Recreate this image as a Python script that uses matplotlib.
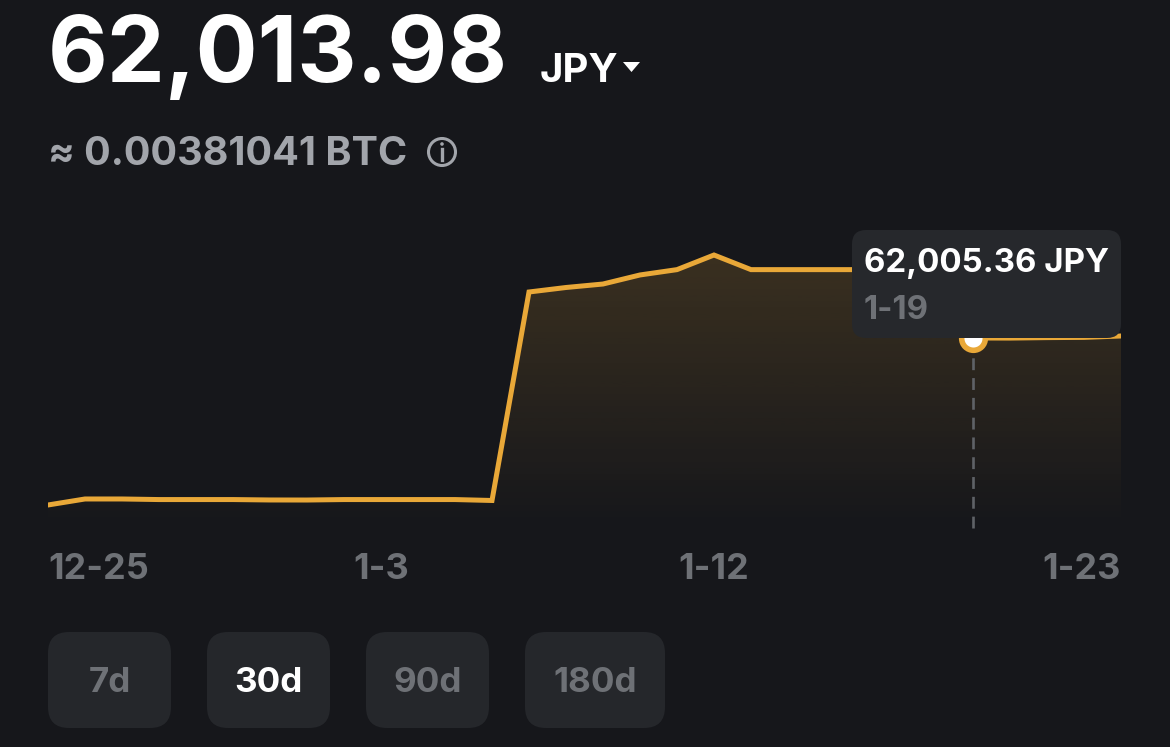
import matplotlib
matplotlib.use("Agg")
import matplotlib.pyplot as plt
import matplotlib.transforms as mtransforms
from matplotlib.patches import FancyBboxPatch, Circle, Polygon
import numpy as np

## chart data (one point per day, 12-25 .. 1-23)
days = list(range(30))
prices = [61285.6, 61311.5, 61311.5, 61309.0, 61309.0, 61309.0, 61307.2, 61307.0,
          61309.0, 61309.0, 61309.0, 61309.0, 61305.0, 62203.6, 62223.0, 62238.0,
          62277.0, 62300.0, 62363.0, 62300.0, 62300.0, 62300.0, 62300.0, 62300.0,
          62300.0, 62005.36, 62005.0, 62007.0, 62008.0, 62013.98]
tick_days = [0, 9, 18, 29]
tick_labels = ["12-25", "1-3", "1-12", "1-23"]
sel_day = 25
sel_label = "1-19"
ranges = ["7d", "30d", "90d", "180d"]
active_range = "30d"

balance = "62,013.98"
btc_amount = "≈ 0.00381041 BTC"

## style
BG = "#16171b"
LINE = "#e9a838"
GRAY = "#6e7176"
LIGHT = "#a2a5ab"
BOX = "#26282c"
W, H = 1170, 747

plt.rcParams['font.family'] = ['Inter', 'DejaVu Sans']

fig = plt.figure(figsize=(W / 100, H / 100), dpi=100, facecolor=BG)


def fx(x):
    return x / W


def fy(y):
    return 1 - y / H


def pt(px):
    return px * 0.72


## chart area
ax = fig.add_axes([fx(48), fy(530), (1121 - 48) / W, (530 - 230) / H])
ax.set_facecolor(BG)
ax.set_xlim(0, 29)
ax.set_ylim(61177.8, 62470.8)
for s in ax.spines.values():
    s.set_visible(False)
ax.set_xticks([])
ax.set_yticks([])

# gradient fill under the line
poly = ax.fill_between(days, prices, ax.get_ylim()[0], color='none')
grad = np.zeros((256, 1, 4))
rgb = matplotlib.colors.to_rgb(LINE)
grad[:, 0, 0] = rgb[0]
grad[:, 0, 1] = rgb[1]
grad[:, 0, 2] = rgb[2]
grad[:, 0, 3] = np.linspace(0.19, 0.0, 256)
im = ax.imshow(grad, aspect='auto', origin='upper',
               extent=[0, 29, ax.get_ylim()[0], ax.get_ylim()[1]], zorder=1)
path = poly.get_paths()[0]
im.set_clip_path(path, transform=ax.transData)

ax.plot(days, prices, color=LINE, lw=3.6, solid_joinstyle='miter', zorder=3)

# hover marker
ax.plot([sel_day, sel_day], [ax.get_ylim()[0] + 10, prices[sel_day]],
        color="#5f6267", lw=1.9, dashes=(4.5, 3), zorder=2)
ax.plot(sel_day, prices[sel_day], 'o', ms=17, mfc='white', mec=LINE, mew=4, zorder=4)

# x labels
trans = mtransforms.blended_transform_factory(ax.transData, fig.transFigure)
for d, lab in zip(tick_days, tick_labels):
    ha = 'center'
    if d == tick_days[0]:
        ha = 'left'
    elif d == tick_days[-1]:
        ha = 'right'
    ax.text(d, fy(579), lab, transform=trans, ha=ha, va='baseline',
            fontsize=pt(36), fontweight='bold', color=GRAY, clip_on=False)

## header
fig.text(fx(48), fy(82), balance, fontsize=pt(92), fontweight='bold', color='white',
         va='baseline', ha='left')
fig.text(fx(540), fy(82), "JPY", fontsize=pt(40), fontweight='bold', color='white',
         va='baseline', ha='left')
fig.patches.append(Polygon([(fx(623), fy(62)), (fx(640), fy(62)), (fx(631.5), fy(72))],
                           closed=True, transform=fig.transFigure, fc='white', ec='none'))
fig.text(fx(48), fy(165), btc_amount, fontsize=pt(39.5), fontweight='bold', color=LIGHT,
         va='baseline', ha='left')
# info icon
fig.add_artist(Circle((442 / 100, (H - 152) / 100), 13.5 / 100, transform=fig.dpi_scale_trans,
                      fc='none', ec=LIGHT, lw=2.2))
fig.add_artist(plt.Line2D([fx(442), fx(442)], [fy(149), fy(160)], color=LIGHT, lw=2.4,
                          transform=fig.transFigure))
fig.add_artist(Circle((442 / 100, (H - 144) / 100), 1.8 / 100, transform=fig.dpi_scale_trans,
                      fc=LIGHT, ec='none'))

## tooltip
tip = FancyBboxPatch((fx(852), fy(338)), fx(1121 - 852), (338 - 230) / H,
                     boxstyle="round,pad=0,rounding_size=0.012",
                     transform=fig.transFigure, fc=BOX, ec='none', zorder=5,
                     mutation_aspect=W / H)
fig.patches.append(tip)
fig.text(fx(864), fy(272), "%s JPY" % f"{prices[sel_day]:,.2f}", fontsize=pt(33),
         fontweight='bold', color='white', va='baseline', ha='left', zorder=6)
fig.text(fx(864), fy(319), sel_label, fontsize=pt(33), fontweight='bold', color=GRAY,
         va='baseline', ha='left', zorder=6)

## range buttons
btn_x = [48, 207, 366, 525]
btn_w = [123, 123, 123, 140]
for x0, bw, lab in zip(btn_x, btn_w, ranges):
    b = FancyBboxPatch((fx(x0), fy(728)), fx(bw), 96 / H,
                       boxstyle="round,pad=0,rounding_size=0.018",
                       transform=fig.transFigure, fc="#25272b", ec='none',
                       mutation_aspect=W / H)
    fig.patches.append(b)
    fig.text(fx(x0 + bw / 2), fy(692), lab, fontsize=pt(35), fontweight='bold',
             color='white' if lab == active_range else GRAY, ha='center', va='baseline')

fig.savefig("out.png", dpi=100, facecolor=BG)
